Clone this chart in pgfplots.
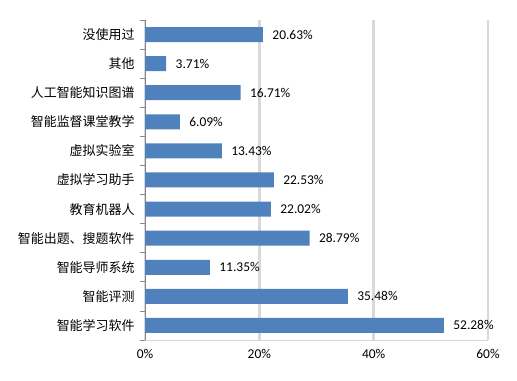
\documentclass[border=0pt]{standalone}
\usepackage{pgfplots}
\pgfplotsset{compat=1.18}
\usepackage{fontspec}
\setmainfont{Carlito}
\newfontfamily\cjk{Noto Sans CJK SC}
\definecolor{barblue}{HTML}{4F81BD}
\definecolor{gridgray}{HTML}{D9D9D9}
\definecolor{axgray}{HTML}{868686}
\begin{document}
\begin{tikzpicture}
\useasboundingbox (0,0) rectangle (517bp,381bp);
\begin{axis}[
  at={(145bp,41bp)}, anchor=south west,
  scale only axis, width=343bp, height=320bp,
  xbar, bar width=15bp,
  xmin=0, xmax=60, ymin=-0.5, ymax=10.5,
  xtick={0,20,40,60},
  xticklabels={0\%,20\%,40\%,60\%},
  ytick={0,...,10},
  yticklabels={智能学习软件,智能评测,智能导师系统,智能出题、搜题软件,教育机器人,虚拟学习助手,虚拟实验室,智能监督课堂教学,人工智能知识图谱,其他,没使用过},
  minor ytick={-0.5,0.5,...,10.5},
  /pgf/number format/assume math mode=true,
  xmajorgrids, major grid style={draw=gridgray, line width=2.5bp},
  axis x line*=bottom, axis y line*=left,
  axis line style={-},
  x axis line style={draw=gridgray, line width=1bp},
  y axis line style={draw=axgray, line width=0.8bp},
  tick align=outside,
  major tick length=0pt,
  minor tick length=5bp,
  minor y tick style={draw=axgray, line width=0.8bp},
  xtick style={draw=none},
  ytick style={draw=none},
  tick label style={font=\fontsize{13.5}{15}\selectfont},
  yticklabel style={font=\cjk\fontsize{13}{15}\selectfont, xshift=-7bp},
  xticklabel style={yshift=-6bp},
  point meta=x,
  nodes near coords={\pgfmathprintnumber[fixed,fixed zerofill,precision=2]{\pgfplotspointmeta}\%},
  every node near coord/.append style={anchor=west, xshift=6bp, font=\fontsize{13.5}{15}\selectfont, text=black},
  clip=false,
]
\addplot[fill=barblue, draw=none] coordinates {
  (52.28,0) (35.48,1) (11.35,2) (28.79,3) (22.02,4) (22.53,5)
  (13.43,6) (6.09,7) (16.71,8) (3.71,9) (20.63,10)
};
\end{axis}
\end{tikzpicture}
\end{document}
